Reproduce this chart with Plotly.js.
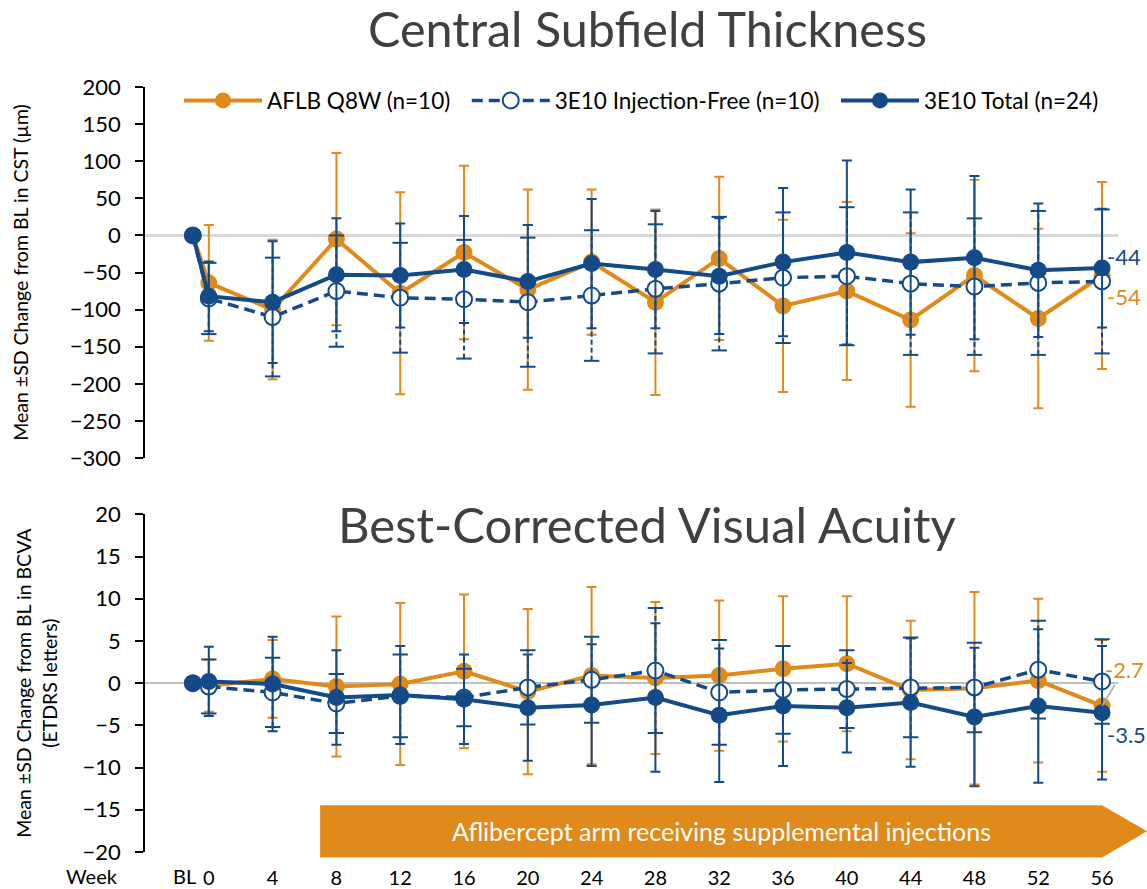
<!DOCTYPE html>
<html>
<head>
<meta charset="utf-8">
<script src="https://cdn.plot.ly/plotly-3.0.1.min.js"></script>
<style>html,body{margin:0;padding:0;background:#fff;}#chart{width:1147px;height:889px;}</style>
</head>
<body>
<div id="chart"></div>
<script>
// ---- Data ----
const weeks = [-1, 0, 4, 8, 12, 16, 20, 24, 28, 32, 36, 40, 44, 48, 52, 56];
const weekLabels = ['BL', '0', '4', '8', '12', '16', '20', '24', '28', '32', '36', '40', '44', '48', '52', '56'];

const seriesNames = ['AFLB Q8W (n=10)', '3E10 Injection-Free (n=10)', '3E10 Total (n=24)'];

// Central Subfield Thickness (change from BL, µm)
const aflbCst    = [0, -64, -100, -5, -78, -23, -73, -36, -90, -31, -95, -75, -114, -54, -112, -54];
const aflbCstSd  = [null, 78, 94, 116, 136, 117, 135, 98, 125, 110, 116, 120, 117, 129, 121, 126];
const injCst     = [0, -85, -110, -75, -84, -86, -90, -81, -72, -65, -57, -55, -65, -69, -64, -62];
const injCstSd   = [null, 48, 80, 75, 74, 80, 87, 88, 87, 90, 88, 93, 96, 92, 97, 97];
const totCst     = [0, -82, -90, -53, -54, -46, -62, -38, -46, -55, -36, -23, -36, -30, -47, -44];
const totCstSd   = [null, 47, 82, 76, 70, 72, 76, 87, 79, 78, 100, 124, 98, 110, 90, 80];

// Best-Corrected Visual Acuity (change from BL, ETDRS letters)
const aflbVa    = [0, -0.3, 0.5, -0.4, -0.1, 1.4, -1.0, 0.9, 0.6, 0.9, 1.7, 2.3, -0.8, -0.6, 0.3, -2.7];
const aflbVaSd  = [null, 3.1, 4.6, 8.3, 9.6, 9.1, 9.8, 10.5, 9.0, 8.9, 8.6, 8.0, 8.2, 11.4, 9.7, 7.8];
const injVa     = [0, -0.4, -1.1, -2.4, -1.5, -1.7, -0.5, 0.4, 1.5, -1.1, -0.8, -0.7, -0.5, -0.5, 1.6, 0.2];
const injVaSd   = [null, 3.2, 4.1, 3.5, 4.9, 3.4, 4.4, 5.1, 7.4, 6.2, 5.2, 4.6, 5.9, 5.3, 5.8, 5.0];
const totVa     = [0, 0.2, -0.1, -1.7, -1.4, -1.9, -2.9, -2.6, -1.7, -3.8, -2.7, -2.9, -2.3, -4.0, -2.7, -3.5];
const totVaSd   = [null, 4.1, 5.6, 5.6, 5.8, 5.3, 6.3, 7.2, 8.8, 7.9, 7.1, 5.3, 7.6, 8.2, 9.1, 7.9];

const titles = ['Central Subfield Thickness', 'Best-Corrected Visual Acuity'];
const yTitles = ['Mean ±SD Change from BL in CST (µm)', 'Mean ±SD Change from BL in BCVA<br>(ETDRS letters)'];
const bannerText = 'Aflibercept arm receiving supplemental injections';

// ---- Style ----
const FONT = 'Lato, "Open Sans", "DejaVu Sans", sans-serif';
const ORANGE = '#E08A1C';
const NAVY = '#134A87';

// the baseline label is drawn as an annotation just left of its point; others as ticks
const tickText = weekLabels.map((t, i) => i === 0 ? '' : t);
// extra spacing after the first two legend entries
const legendNames = seriesNames.map((n, i) => i < 2 ? n + '\u00a0\u00a0' : n);

function dashedErr(x, m, s, xa, ya) {
  const lx = [], ly = [], cx = [], cy = [];
  for (let i = 0; i < x.length; i++) {
    if (s[i] == null) continue;
    lx.push(x[i], x[i], null); ly.push(m[i] - s[i], m[i] + s[i], null);
    cx.push(x[i], x[i]); cy.push(m[i] - s[i], m[i] + s[i]);
  }
  return [
    {x: lx, y: ly, xaxis: xa, yaxis: ya, mode: 'lines', showlegend: false, hoverinfo: 'skip',
     line: {color: NAVY, width: 2, dash: '5px,3px'}},
    {x: cx, y: cy, xaxis: xa, yaxis: ya, mode: 'markers', showlegend: false, hoverinfo: 'skip',
     marker: {symbol: 'line-ew', size: 11, line: {color: NAVY, width: 2}}}
  ];
}

function panel(a, as, inj, injs, tot, tots, xa, ya, legend) {
  return [
    {x: weeks, y: a, xaxis: xa, yaxis: ya, name: legendNames[0], showlegend: legend, mode: 'lines+markers',
     line: {color: ORANGE, width: 4}, marker: {color: ORANGE, size: 17},
     error_y: {type: 'data', array: as, visible: true, color: ORANGE, thickness: 2, width: 5}},
    ...dashedErr(weeks, inj, injs, xa, ya),
    {x: weeks, y: inj, xaxis: xa, yaxis: ya, name: legendNames[1], showlegend: legend, mode: 'lines+markers',
     line: {color: NAVY, width: 3.5, dash: '11px,6px'},
     marker: {color: '#ffffff', size: 16, line: {color: NAVY, width: 2}}},
    {x: weeks, y: tot, xaxis: xa, yaxis: ya, name: legendNames[2], showlegend: legend, mode: 'lines+markers',
     line: {color: NAVY, width: 4}, marker: {color: NAVY, size: 17},
     error_y: {type: 'data', array: tots, visible: true, color: NAVY, thickness: 2, width: 5}}
  ];
}

const data = [
  ...panel(aflbCst, aflbCstSd, injCst, injCstSd, totCst, totCstSd, 'x', 'y', true),
  ...panel(aflbVa, aflbVaSd, injVa, injVaSd, totVa, totVaSd, 'x2', 'y2', false)
];

const last = weeks.length - 1;
const yAxisCommon = {
  ticks: 'outside', ticklen: 8, tickwidth: 1.5, tickcolor: '#000',
  showline: true, linewidth: 1.5, linecolor: '#000', showgrid: false,
  zeroline: true, tickfont: {family: FONT, size: 22, color: '#000'}, ticklabelstandoff: 10
};

const layout = {
  width: 1147, height: 889,
  margin: {l: 145, r: 29, t: 87, b: 37},
  paper_bgcolor: '#fff', plot_bgcolor: '#fff',
  font: {family: FONT, color: '#000'},
  title: {text: titles[0], x: 0.5645, xanchor: 'center', y: 0.9657, yanchor: 'middle',
          font: {family: FONT, size: 48.5, color: '#404040'}},
  xaxis: {domain: [0, 1], anchor: 'y', range: [-4, 57], showticklabels: false, showline: false,
          zeroline: false, showgrid: false, ticks: ''},
  xaxis2: {domain: [0, 1], anchor: 'y2', range: [-4, 57], tickvals: weeks, ticktext: tickText,
           tickangle: 0, ticks: '', showline: false, zeroline: false, showgrid: false,
           tickfont: {family: FONT, size: 20, color: '#000'}, ticklabelstandoff: 12},
  yaxis: Object.assign({}, yAxisCommon, {domain: [0.515, 1], range: [-300, 200], dtick: 50, tick0: 0,
          zerolinecolor: '#D9D9D9', zerolinewidth: 3,
          title: {text: yTitles[0], standoff: 36, font: {family: FONT, size: 19.5, color: '#000'}}}),
  yaxis2: Object.assign({}, yAxisCommon, {domain: [0, 0.4414], range: [-20, 20], dtick: 5, tick0: 0,
          zerolinecolor: '#BFBFBF', zerolinewidth: 1.5,
          title: {text: yTitles[1], standoff: 20, font: {family: FONT, size: 19.5, color: '#000'}}}),
  legend: {orientation: 'h', x: 0.035, xanchor: 'left', y: 0.982, yanchor: 'middle',
           font: {family: FONT, size: 22.5, color: '#000'}, bgcolor: 'rgba(0,0,0,0)', itemwidth: 78,
           traceorder: 'normal'},
  shapes: [
    {type: 'path', xref: 'paper', yref: 'paper', layer: 'below',
     path: 'M0.18,0.061 L0.9836,0.061 L1.0298,0.027 L0.9836,-0.0073 L0.18,-0.0073 Z',
     fillcolor: '#E08A1C', line: {width: 0}}
  ],
  annotations: [
    {text: titles[1], xref: 'paper', yref: 'paper', x: 0.516, y: 0.4284, xanchor: 'center', yanchor: 'middle',
     showarrow: false, font: {family: FONT, size: 49, color: '#404040'}},
    {text: bannerText, xref: 'paper', yref: 'paper', x: 0.593, y: 0.027, xanchor: 'center', yanchor: 'middle',
     showarrow: false, font: {family: FONT, size: 25, color: '#fff'}},
    {text: 'Week', xref: 'paper', yref: 'paper', x: -0.054, y: -0.031, xanchor: 'center', yanchor: 'middle',
     showarrow: false, font: {family: FONT, size: 20, color: '#000'}},
    {text: weekLabels[0], xref: 'x2', yref: 'paper', x: weeks[0], y: -0.031, xanchor: 'right', yanchor: 'middle',
     xshift: 5, showarrow: false, font: {family: FONT, size: 20, color: '#000'}},
    {text: String(totCst[last]), xref: 'x', yref: 'y', x: weeks[last], y: totCst[last], xanchor: 'left',
     yanchor: 'middle', xshift: 3, yshift: 12, showarrow: false, font: {family: FONT, size: 22, color: NAVY}},
    {text: String(aflbCst[last]), xref: 'x', yref: 'y', x: weeks[last], y: aflbCst[last], xanchor: 'left',
     yanchor: 'middle', xshift: 3, yshift: -21, showarrow: false, font: {family: FONT, size: 22, color: ORANGE}},
    {text: String(aflbVa[last]), xref: 'x2', yref: 'y2', x: weeks[last], y: aflbVa[last],
     showarrow: true, arrowhead: 0, arrowwidth: 1.5, arrowcolor: '#A6A6A6', ax: 22, ay: -36, standoff: 0,
     font: {family: FONT, size: 22, color: ORANGE}},
    {text: String(totVa[last]), xref: 'x2', yref: 'y2', x: weeks[last], y: totVa[last], xanchor: 'left',
     yanchor: 'middle', xshift: 3, yshift: -22, showarrow: false, font: {family: FONT, size: 22, color: NAVY}}
  ]
};

Plotly.newPlot('chart', data, layout, {displayModeBar: false, responsive: false});
</script>
</body>
</html>
